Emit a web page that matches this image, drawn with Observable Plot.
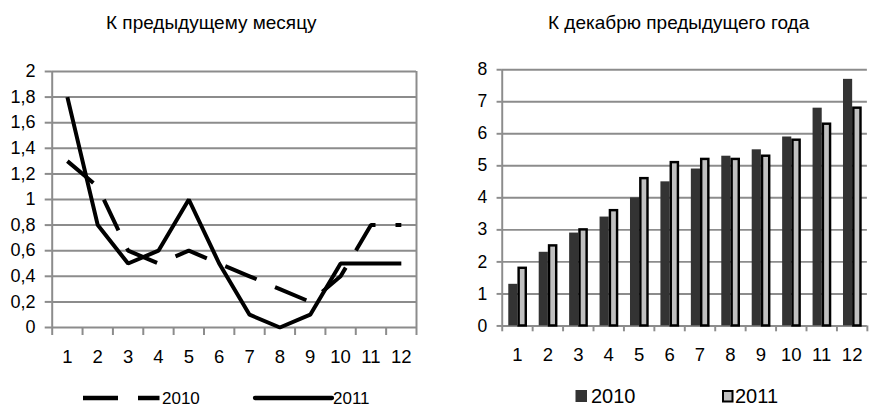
<!DOCTYPE html>
<html>
<head>
<meta charset="utf-8">
<script src="https://cdn.jsdelivr.net/npm/d3@7"></script>
<script src="https://cdn.jsdelivr.net/npm/@observablehq/plot@0.6"></script>
<style>
  html, body { margin: 0; padding: 0; background: #fff; }
  #wrap { position: relative; width: 874px; height: 408px; overflow: hidden; background: #fff; }
  #left, #right, #overlay { position: absolute; top: 0; }
  #left { left: 0; }
  #right { left: 440px; }
  #overlay { left: 0; pointer-events: none; }
  svg text { font-family: "Liberation Sans", Arial, sans-serif; }
</style>
</head>
<body>
<div id="wrap">
  <div id="left"></div>
  <div id="right"></div>
  <svg id="overlay" width="874" height="408"></svg>
</div>
<script>
// ---------- data ----------
const months = [1, 2, 3, 4, 5, 6, 7, 8, 9, 10, 11, 12];
const monthLabels = ["1","2","3","4","5","6","7","8","9","10","11","12"];
// К предыдущему месяцу
const mom2010 = [1.3, 1.1, 0.6, 0.5, 0.6, 0.5, 0.4, 0.3, 0.2, 0.4, 0.8, 0.8];
const mom2011 = [1.8, 0.8, 0.5, 0.6, 1.0, 0.5, 0.1, 0.0, 0.1, 0.5, 0.5, 0.5];
// К декабрю предыдущего года
const ytd2010 = [1.3, 2.3, 2.9, 3.4, 4.0, 4.5, 4.9, 5.3, 5.5, 5.9, 6.8, 7.7];
const ytd2011 = [1.8, 2.5, 3.0, 3.6, 4.6, 5.1, 5.2, 5.2, 5.3, 5.8, 6.3, 6.8];
const yTicksLeft = [0, 0.2, 0.4, 0.6, 0.8, 1, 1.2, 1.4, 1.6, 1.8, 2];
const yTicksRight = [0, 1, 2, 3, 4, 5, 6, 7, 8];
const seriesNames = ["2010", "2011"];
const titles = ["К предыдущему месяцу", "К декабрю предыдущего года"];

// ---------- styles ----------
const GRID = "#8c8c8c";
const FONT = "Liberation Sans, Arial, sans-serif";
const bounds = months.map(m => m - 0.5).concat([12.5]);
const comma = d => String(d).replace(".", ",");

const lineRows = months.flatMap((m, i) => [
  {month: m, year: seriesNames[0], v: mom2010[i]},
  {month: m, year: seriesNames[1], v: mom2011[i]}
]);
const barRows = months.flatMap((m, i) => [
  {month: m, year: seriesNames[0], v: ytd2010[i]},
  {month: m, year: seriesNames[1], v: ytd2011[i]}
]);
const slot = {"2010": [0.215, 0.516], "2011": [0.555, 0.79]};

// ---------- left chart ----------
const left = Plot.plot({
  width: 440, height: 385,
  marginLeft: 51.7, marginRight: 24, marginTop: 71, marginBottom: 58,
  style: {fontFamily: FONT, fontSize: "18px", color: "#000", background: "transparent", overflow: "visible"},
  x: {domain: [0.5, 12.5], label: null},
  y: {domain: [0, 2], label: null},
  marks: [
    Plot.gridY(yTicksLeft, {stroke: GRID, strokeOpacity: 1, strokeWidth: 2}),
    Plot.ruleX([0.5, 12.5], {stroke: GRID, strokeWidth: 2}),
    Plot.axisY(yTicksLeft, {tickSize: 7, tickFormat: () => "", stroke: GRID, strokeWidth: 2, label: null}),
    Plot.axisX(bounds, {tickSize: 8, tickFormat: () => "", stroke: GRID, strokeWidth: 2, label: null}),
    Plot.text(yTicksLeft, {y: d => d, text: comma, frameAnchor: "left", textAnchor: "end", lineAnchor: "middle",
      dx: -16.7, fontSize: 18, fontFamily: FONT, fill: "#000"}),
    Plot.text(months, {x: d => d, text: (d, i) => monthLabels[i], frameAnchor: "bottom", lineAnchor: "middle",
      dy: 30, fontSize: 18.5, fontFamily: FONT, fill: "#000"}),
    Plot.line(lineRows.filter(d => d.year === "2010"), {x: "month", y: "v", stroke: "#000", strokeWidth: 4, strokeDasharray: "34,20", strokeLinecap: "butt", strokeLinejoin: "miter"}),
    Plot.line(lineRows.filter(d => d.year === "2011"), {x: "month", y: "v", stroke: "#000", strokeWidth: 4, strokeLinecap: "butt", strokeLinejoin: "miter"})
  ]
});
document.getElementById("left").appendChild(left);

// ---------- right chart ----------
const right = Plot.plot({
  width: 445, height: 395,
  marginLeft: 63.3, marginRight: 7.3, marginTop: 71, marginBottom: 61.3,
  style: {fontFamily: FONT, fontSize: "18px", color: "#000", background: "transparent", overflow: "visible"},
  x: {domain: [0.5, 12.5], label: null},
  y: {domain: [0, 8], label: null},
  marks: [
    Plot.gridY(yTicksRight, {stroke: GRID, strokeOpacity: 1, strokeWidth: 2}),
    Plot.ruleX([0.5], {stroke: GRID, strokeWidth: 2}),
    Plot.axisY(yTicksRight, {tickSize: 5.3, tickFormat: () => "", stroke: GRID, strokeWidth: 2, label: null}),
    Plot.axisX(bounds, {tickSize: 6, tickFormat: () => "", stroke: GRID, strokeWidth: 2, label: null}),
    Plot.text(yTicksRight, {y: d => d, text: d => String(d), frameAnchor: "left", textAnchor: "end", lineAnchor: "middle",
      dx: -15.3, fontSize: 18, fontFamily: FONT, fill: "#000"}),
    Plot.text(months, {x: d => d, text: (d, i) => monthLabels[i], frameAnchor: "bottom", lineAnchor: "middle",
      dy: 30, fontSize: 19, fontFamily: FONT, fill: "#000"}),
    Plot.rect(barRows.filter(d => d.year === "2010"), {
      x1: d => d.month - 0.5 + slot["2010"][0], x2: d => d.month - 0.5 + slot["2010"][1],
      y1: 0, y2: "v", fill: "#333333"
    }),
    Plot.rect(barRows.filter(d => d.year === "2011"), {
      x1: d => d.month - 0.5 + slot["2011"][0], x2: d => d.month - 0.5 + slot["2011"][1],
      y1: 0, y2: "v", fill: "#c0c0c0", stroke: "#000", strokeWidth: 2.5
    })
  ]
});
document.getElementById("right").appendChild(right);

// ---------- titles & legends ----------
const ov = d3.select("#overlay");
ov.append("text").attr("x", 106).attr("y", 29).attr("font-size", 19).attr("fill", "#000").text(titles[0]);
ov.append("text").attr("x", 548).attr("y", 29).attr("font-size", 19).attr("fill", "#000").text(titles[1]);

// left legend
ov.append("line").attr("x1", 83).attr("x2", 159.5).attr("y1", 398).attr("y2", 398)
  .attr("stroke", "#000").attr("stroke-width", 4.3).attr("stroke-dasharray", "35,20");
ov.append("text").attr("x", 162).attr("y", 404).attr("font-size", 17).attr("fill", "#000").text(seriesNames[0]);
ov.append("line").attr("x1", 255).attr("x2", 332).attr("y1", 398).attr("y2", 398)
  .attr("stroke", "#000").attr("stroke-width", 4.3).attr("stroke-linecap", "round");
ov.append("text").attr("x", 333).attr("y", 404).attr("font-size", 17).attr("fill", "#000").text(seriesNames[1]);

// right legend
ov.append("rect").attr("x", 575.5).attr("y", 390).attr("width", 11.5).attr("height", 12).attr("fill", "#333333");
ov.append("text").attr("x", 591).attr("y", 403).attr("font-size", 20).attr("fill", "#000").text(seriesNames[0]);
ov.append("rect").attr("x", 723).attr("y", 391).attr("width", 9.5).attr("height", 10.5)
  .attr("fill", "#c0c0c0").attr("stroke", "#000").attr("stroke-width", 2);
ov.append("text").attr("x", 735).attr("y", 403).attr("font-size", 20).attr("fill", "#000").text(seriesNames[1]);
</script>
</body>
</html>
